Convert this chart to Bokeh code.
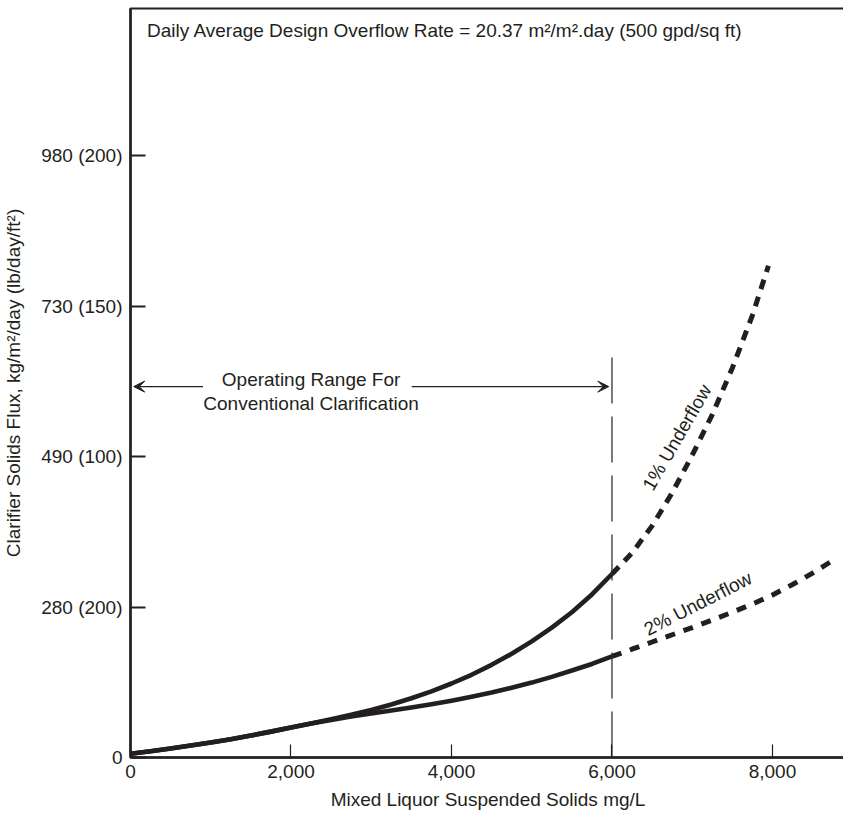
import math

from bokeh.plotting import figure
from bokeh.models import Label, Arrow, VeeHead, FixedTicker, Range1d
from bokeh.embed import file_html
from bokeh.resources import INLINE

# Mixed liquor suspended solids, mg/L (operating range)
mlss_solid = [0, 250, 500, 750, 1000, 1250, 1500, 1750, 2000, 2250, 2500, 2750, 3000,
              3250, 3500, 3750, 4000, 4250, 4500, 4750, 5000, 5250, 5500, 5750, 6000]
# Solids flux (lb/day/ft2) inside the conventional operating range
flux_1pct_solid = [1.25, 2.1, 3.0, 4.0, 5.0, 6.1, 7.3, 8.6, 10.0, 11.3, 12.7, 14.2, 15.8,
                   17.6, 19.7, 22.0, 24.6, 27.5, 30.8, 34.5, 38.6, 43.2, 48.3, 54.2, 61.0]
flux_2pct_solid = [1.25, 2.1, 3.0, 4.0, 5.0, 6.1, 7.3, 8.6, 10.0, 11.3, 12.5, 13.6, 14.6,
                   15.6, 16.6, 17.7, 18.9, 20.2, 21.6, 23.2, 24.9, 26.8, 28.9, 31.1, 33.6]

# Extrapolated portions beyond the operating range
mlss_1pct_dash = [6000, 6250, 6500, 6750, 7000, 7250, 7500, 7750, 7950]
flux_1pct_dash = [61.0, 68.0, 77.0, 88.0, 100.5, 114.0, 129.5, 147.0, 163.5]
mlss_2pct_dash = [6000, 6250, 6500, 6750, 7000, 7250, 7500, 7750, 8000, 8250, 8500, 8750]
flux_2pct_dash = [33.6, 36.0, 38.4, 40.8, 43.2, 45.7, 48.3, 51.0, 54.0, 57.5, 61.3, 65.5]

operating_limit = 6000

x_ticks = [0, 2000, 4000, 6000, 8000]
x_tick_labels = ["0", "2,000", "4,000", "6,000", "8,000"]
y_ticks = [0, 50, 100, 150, 200]
y_tick_labels = ["0", "280 (200)", "490 (100)", "730 (150)", "980 (200)"]

INK = "#231f20"
FONT = "Liberation Sans"
FS = "19px"

p = figure(
    frame_width=715, frame_height=749,
    min_border_left=127, min_border_right=1, min_border_top=8, min_border_bottom=59,
    x_range=Range1d(0, 8910), y_range=Range1d(0, 249),
    output_backend="svg", toolbar_location=None,
)
p.grid.visible = False
p.background_fill_color = "white"
p.border_fill_color = "white"
p.outline_line_color = INK
p.outline_line_width = 2

# Axes
xa = p.xaxis[0]
xa.ticker = FixedTicker(ticks=x_ticks)
xa.major_label_overrides = dict(zip(x_ticks, x_tick_labels))
xa.axis_label = "Mixed Liquor Suspended Solids mg/L"
ya = p.yaxis[0]
ya.ticker = FixedTicker(ticks=y_ticks)
ya.major_label_overrides = dict(zip(y_ticks, y_tick_labels))
ya.axis_label = "Clarifier Solids Flux, kg/m²/day (lb/day/ft²)"

for ax in (xa, ya):
    ax.axis_line_color = INK
    ax.axis_line_width = 2.5
    ax.major_tick_line_color = INK
    ax.major_tick_out = 0
    ax.minor_tick_line_color = None
    ax.major_label_text_font = FONT
    ax.major_label_text_font_size = FS
    ax.major_label_text_color = INK
    ax.axis_label_text_font = FONT
    ax.axis_label_text_font_size = FS
    ax.axis_label_text_font_style = "normal"
    ax.axis_label_text_color = INK

xa.major_tick_in = 13
xa.major_tick_line_width = 1.2
xa.major_label_standoff = 7
xa.axis_label_standoff = 8
ya.major_tick_in = 15
ya.major_tick_line_width = 2
ya.major_label_standoff = 8
ya.axis_label_standoff = 14

# Operating range boundary
p.line([operating_limit, operating_limit], [133, 0], line_color=INK, line_width=1.2,
       line_dash="46 13")

# Flux curves
for ys in (flux_1pct_solid, flux_2pct_solid):
    p.line(mlss_solid, ys, line_color=INK, line_width=4.6, line_join="round")
p.line(mlss_1pct_dash, flux_1pct_dash, line_color=INK, line_width=5, line_dash="10 8")
p.line(mlss_2pct_dash, flux_2pct_dash, line_color=INK, line_width=5, line_dash="10 9")

def note(x, y, text, align="center", angle=0.0):
    p.add_layout(Label(x=x, y=y, text=text, text_font=FONT, text_font_size=FS,
                       text_color=INK, text_align=align, text_baseline="middle",
                       angle=angle))

note(205, 241.7, "Daily Average Design Overflow Rate = 20.37 m²/m².day (500 gpd/sq ft)", align="left")
note(2250, 125.5, "Operating Range For")
note(2250, 117.7, "Conventional Clarification")
note(6810, 106.4, "1% Underflow", angle=math.radians(60))
note(7072, 51.2, "2% Underflow", angle=math.radians(27))

# Operating range arrows
p.add_layout(Arrow(x_start=904, y_start=123.3, x_end=40, y_end=123.3,
                   line_color=INK, line_width=1.2,
                   end=VeeHead(size=11, line_color=INK, fill_color=INK, line_width=1)))
p.add_layout(Arrow(x_start=3505, y_start=123.3, x_end=5960, y_end=123.3,
                   line_color=INK, line_width=1.2,
                   end=VeeHead(size=11, line_color=INK, fill_color=INK, line_width=1)))

open("out.html", "w").write(file_html(p, INLINE))
